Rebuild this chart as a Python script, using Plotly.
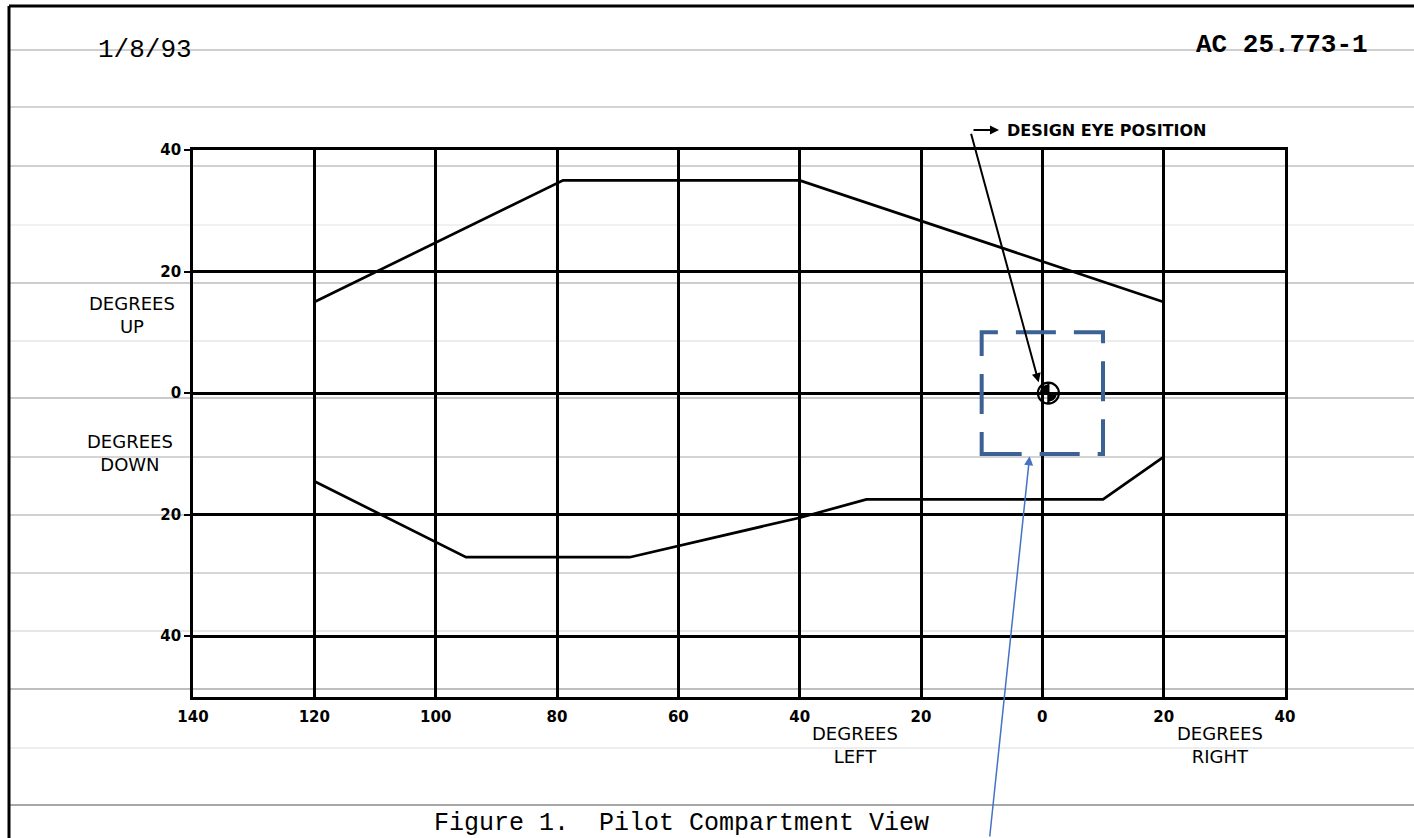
import numpy as np
import plotly.graph_objects as go

W, H = 1414, 838

# grid / tick labels (x: negative = left of design eye, positive = right)
x_ticks = [-140, -120, -100, -80, -60, -40, -20, 0, 20, 40]
x_labels = ["140", "120", "100", "80", "60", "40", "20", "0", "20", "40"]
y_ticks = [-40, -20, 0, 20, 40]
y_labels = ["40", "20", "0", "20", "40"]

# vision envelope
upper_x = [-120, -79, -40, 20]
upper_y = [15, 35, 35, 15]
lower_x = [-120, -95, -68, -40, -29, 10, 20]
lower_y = [-14.5, -27, -27, -20.5, -17.5, -17.5, -10.5]
left_edge_x = [-120, -120]
left_edge_y = [-14.5, 15]

eye_x, eye_y = 1, 0

# highlighted box round the design eye
box_x = [-10, 10]
box_y = [-10, 10]

# page rules of the scanned sheet (pixel rows) and their greys
rule_rows = [50, 107, 166, 225, 283, 341, 398, 457, 515, 573, 631, 689, 748, 805]
rule_cols = ["#bfbfbf", "#c6c6c6", "#c2c2c2", "#ececec", "#bdbdbd", "#e6e6e6", "#b9b9b9",
             "#c6c6c6", "#c0c0c0", "#c8c8c8", "#dedede", "#a8a8a8", "#e8e8e8", "#8a8a8a"]


def px(x):
    return x / W


def py(y):
    return 1 - y / H


def quarter(cx, cy, r, a0):
    t = np.radians(np.linspace(a0, a0 + 90, 10))
    pts = " ".join(f"L {cx + r * np.cos(a):.3f} {cy + r * np.sin(a):.3f}" for a in t)
    return f"M {cx} {cy} {pts} Z"


fig = go.Figure()

line = dict(color="black", width=2.7)
fig.add_trace(go.Scatter(x=upper_x, y=upper_y, mode="lines", line=line, hoverinfo="skip"))
fig.add_trace(go.Scatter(x=lower_x, y=lower_y, mode="lines", line=line, hoverinfo="skip"))
fig.add_trace(go.Scatter(x=left_edge_x, y=left_edge_y, mode="lines", line=line, hoverinfo="skip"))

# eye symbol: circle with two filled quadrants
r = 1.4
fig.add_shape(type="path", xref="x", yref="y", path=quarter(eye_x, eye_y, r, 90),
              fillcolor="black", line=dict(width=0))
fig.add_shape(type="path", xref="x", yref="y", path=quarter(eye_x, eye_y, r, 270),
              fillcolor="black", line=dict(width=0))
fig.add_trace(go.Scatter(x=[eye_x], y=[eye_y], mode="markers", hoverinfo="skip",
                         marker=dict(symbol="circle-cross-open", size=21, color="black",
                                     line=dict(color="black", width=2.2))))

# page rules
for row, col in zip(rule_rows, rule_cols):
    fig.add_shape(type="line", xref="paper", yref="paper", layer="below",
                  x0=px(10), x1=1, y0=py(row), y1=py(row),
                  line=dict(color=col, width=1.5))

# page border (left and top)
fig.add_shape(type="line", xref="paper", yref="paper", x0=px(9), x1=px(9), y0=0, y1=py(6),
              line=dict(color="black", width=3))
fig.add_shape(type="line", xref="paper", yref="paper", x0=px(9), x1=1, y0=py(6), y1=py(6),
              line=dict(color="black", width=3))

# blue dashed box
fig.add_shape(type="rect", xref="x", yref="y", x0=box_x[0], x1=box_x[1], y0=box_y[0], y1=box_y[1],
              line=dict(color="#3c6194", width=4, dash="40px,18px"))

mono = "Liberation Mono"
sans = "DejaVu Sans"
ann = []
ann.append(dict(text="1/8/93", xref="paper", yref="paper", x=px(96), y=py(50),
                xanchor="left", yanchor="middle", showarrow=False,
                font=dict(family=mono, size=26, color="black")))
ann.append(dict(text="<b>AC 25.773-1</b>", xref="paper", yref="paper", x=px(1370), y=py(45),
                xanchor="right", yanchor="middle", showarrow=False,
                font=dict(family=mono, size=26, color="black")))
ann.append(dict(text="Figure 1.  Pilot Compartment View", xref="paper", yref="paper",
                x=px(432), y=py(823), xanchor="left", yanchor="middle", showarrow=False,
                font=dict(family=mono, size=25, color="black")))

lab = dict(family=sans, size=18, color="black")
for txt, cx, cy in [("DEGREES<br>UP", 132, 315), ("DEGREES<br>DOWN", 130, 453),
                    ("DEGREES<br>LEFT", 855, 745), ("DEGREES<br>RIGHT", 1220, 745)]:
    ann.append(dict(text=txt, x=px(cx), y=py(cy), xref="paper", yref="paper",
                    xanchor="center", yanchor="middle", showarrow=False, font=lab, align="center"))
ann.append(dict(text="DESIGN EYE POSITION", x=px(1005), y=py(130), xref="paper", yref="paper",
                xanchor="left", yanchor="middle", showarrow=False,
                font=dict(family=sans, size=16, color="black", weight="bold")))

# leader lines
ann.append(dict(x=px(999), y=py(130), xref="paper", yref="paper", ax=-27, ay=0,
                text="", showarrow=True, arrowhead=2, arrowsize=0.9, arrowwidth=2, arrowcolor="black"))
ann.append(dict(x=-0.6, y=1.8, xref="x", yref="y", ax=-68, ay=-250,
                text="", showarrow=True, arrowhead=2, arrowsize=0.9, arrowwidth=2, arrowcolor="black"))
ann.append(dict(x=-2.1, y=-10.4, xref="x", yref="y", ax=-40, ay=390,
                text="", showarrow=True, arrowhead=2, arrowsize=1.2, arrowwidth=1.5,
                arrowcolor="#4472c4"))

fig.update_layout(
    width=W, height=H, autosize=False,
    margin=dict(l=0, r=0, t=0, b=0, autoexpand=False),
    paper_bgcolor="white", plot_bgcolor="white",
    showlegend=False, annotations=ann,
    font=dict(family=sans, size=15, color="black"),
)
fig.update_xaxes(domain=[px(193), px(1285)], range=[-140, 40],
                 tickvals=x_ticks, ticktext=x_labels,
                 showgrid=True, gridcolor="black", gridwidth=2.6,
                 zeroline=True, zerolinecolor="black", zerolinewidth=2.6,
                 showline=True, mirror=True, linecolor="black", linewidth=2.8,
                 ticks="", ticklabelstandoff=4, automargin=False,
                 tickfont=dict(family=sans, size=15, weight="bold"))
fig.update_yaxes(domain=[py(697), py(150)], range=[-50, 40],
                 tickvals=y_ticks, ticktext=y_labels,
                 showgrid=True, gridcolor="black", gridwidth=2.6,
                 zeroline=True, zerolinecolor="black", zerolinewidth=2.6,
                 showline=True, mirror=True, linecolor="black", linewidth=2.8,
                 ticks="outside", ticklen=6, tickcolor="black", tickwidth=2, automargin=False,
                 tickfont=dict(family=sans, size=15, weight="bold"))

fig.write_html("out.html", config={"displayModeBar": False},
               post_script="document.body.style.margin='0';")
